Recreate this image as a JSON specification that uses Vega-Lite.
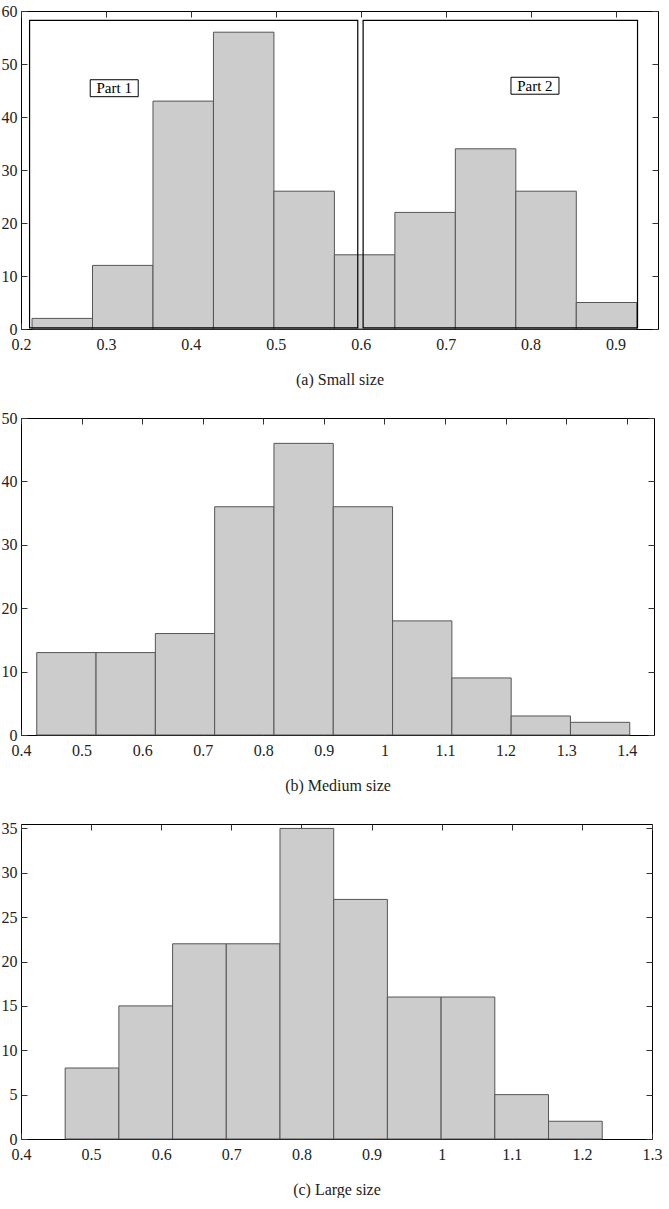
{
  "$schema": "https://vega.github.io/schema/vega-lite/v6.json",
  "padding": {"left": 0, "top": 2, "right": 0, "bottom": 0},
  "background": "white",
  "bounds": "flush",
  "spacing": 89,
  "config": {
    "view": {"stroke": "#000", "strokeWidth": 1},
    "font": "Times New Roman, Liberation Serif, DejaVu Serif, serif",
    "text": {"font": "Times New Roman, Liberation Serif, DejaVu Serif, serif"},
    "axis": {
      "grid": false,
      "domain": false,
      "labelFont": "Times New Roman, Liberation Serif, DejaVu Serif, serif",
      "labelFontSize": 16,
      "labelColor": "#222",
      "tickColor": "#333",
      "tickSize": -6,
      "titleFont": "Times New Roman, Liberation Serif, DejaVu Serif, serif",
      "titleFontSize": 16,
      "titleFontWeight": "normal",
      "titleColor": "#222"
    },
    "axisX": {"labelPadding": 13},
    "axisY": {"labelPadding": 10}
  },
  "vconcat": [
    {
      "width": 637,
      "height": 318,
      "layer": [
        {
          "data": {"values": [
            {"x0": 0.213, "x1": 0.2842, "count": 2},
            {"x0": 0.2842, "x1": 0.3554, "count": 12},
            {"x0": 0.3554, "x1": 0.4266, "count": 43},
            {"x0": 0.4266, "x1": 0.4978, "count": 56},
            {"x0": 0.4978, "x1": 0.569, "count": 26},
            {"x0": 0.569, "x1": 0.6402, "count": 14},
            {"x0": 0.6402, "x1": 0.7114, "count": 22},
            {"x0": 0.7114, "x1": 0.7826, "count": 34},
            {"x0": 0.7826, "x1": 0.8538, "count": 26},
            {"x0": 0.8538, "x1": 0.925, "count": 5}
          ]},
          "mark": {"type": "rect", "fill": "#cccccc", "stroke": "#555", "strokeWidth": 1},
          "encoding": {
            "x": {"field": "x0", "type": "quantitative", "scale": {"domain": [0.2, 0.95], "nice": false, "zero": false},
                  "axis": {"values": [0.2, 0.3, 0.4, 0.5, 0.6, 0.7, 0.8, 0.9], "format": ".1~f", "title": "(a) Small size", "titlePadding": 19, "labelFlush": false}},
            "x2": {"field": "x1"},
            "y": {"field": "count", "type": "quantitative", "scale": {"domain": [0, 60], "nice": false},
                  "axis": {"values": [0, 10, 20, 30, 40, 50, 60], "title": null}},
            "y2": {"datum": 0}
          }
        },
        {
          "data": {"values": [{"a": 0.2, "b": 0}, {"a": 0.95, "b": 60}]},
          "mark": {"type": "point", "opacity": 0},
          "encoding": {
            "x": {"field": "a", "type": "quantitative", "axis": {"orient": "top", "labels": false, "title": null, "values": [0.2, 0.3, 0.4, 0.5, 0.6, 0.7, 0.8, 0.9]}},
            "y": {"field": "b", "type": "quantitative", "axis": {"orient": "right", "labels": false, "title": null, "values": [0, 10, 20, 30, 40, 50, 60]}}
          }
        },
        {
          "data": {"values": [
            {"a": 0.2101, "b": 0.5965, "c": 0.2, "d": 58.25},
            {"a": 0.6028, "b": 0.9259, "c": 0.2, "d": 58.25}
          ]},
          "mark": {"type": "rect", "fillOpacity": 0, "stroke": "#000", "strokeWidth": 1.2},
          "encoding": {
            "x": {"field": "a", "type": "quantitative", "axis": null},
            "x2": {"field": "b"},
            "y": {"field": "c", "type": "quantitative", "axis": null},
            "y2": {"field": "d"}
          }
        },
        {
          "data": {"values": [
            {"a": 0.2815, "b": 0.338, "c": 43.83, "d": 47.03, "tx": 0.3097, "ty": 45.43, "label": "Part 1"},
            {"a": 0.7769, "b": 0.8334, "c": 44.3, "d": 47.5, "tx": 0.805, "ty": 45.9, "label": "Part 2"}
          ]},
          "layer": [
            {
              "mark": {"type": "rect", "fill": "white", "stroke": "#000", "strokeWidth": 1},
              "encoding": {
                "x": {"field": "a", "type": "quantitative", "axis": null},
                "x2": {"field": "b"},
                "y": {"field": "c", "type": "quantitative", "axis": null},
                "y2": {"field": "d"}
              }
            },
            {
              "mark": {"type": "text", "font": "Times New Roman, Liberation Serif, DejaVu Serif, serif", "fontSize": 15, "color": "#000", "baseline": "middle", "align": "center"},
              "encoding": {
                "x": {"field": "tx", "type": "quantitative", "axis": null},
                "y": {"field": "ty", "type": "quantitative", "axis": null},
                "text": {"field": "label"}
              }
            }
          ]
        }
      ],
      "resolve": {"axis": {"x": "independent", "y": "independent"}}
    },
    {
      "width": 633,
      "height": 317,
      "layer": [
        {
          "data": {"values": [
            {"x0": 0.426, "x1": 0.5239, "count": 13},
            {"x0": 0.5239, "x1": 0.6218, "count": 13},
            {"x0": 0.6218, "x1": 0.7197, "count": 16},
            {"x0": 0.7197, "x1": 0.8176, "count": 36},
            {"x0": 0.8176, "x1": 0.9155, "count": 46},
            {"x0": 0.9155, "x1": 1.0134, "count": 36},
            {"x0": 1.0134, "x1": 1.1113, "count": 18},
            {"x0": 1.1113, "x1": 1.2092, "count": 9},
            {"x0": 1.2092, "x1": 1.3071, "count": 3},
            {"x0": 1.3071, "x1": 1.405, "count": 2}
          ]},
          "mark": {"type": "rect", "fill": "#cccccc", "stroke": "#555", "strokeWidth": 1},
          "encoding": {
            "x": {"field": "x0", "type": "quantitative", "scale": {"domain": [0.4, 1.445], "nice": false, "zero": false},
                  "axis": {"values": [0.4, 0.5, 0.6, 0.7, 0.8, 0.9, 1.0, 1.1, 1.2, 1.3, 1.4], "format": ".1~f", "title": "(b) Medium size", "titlePadding": 19, "labelFlush": false}},
            "x2": {"field": "x1"},
            "y": {"field": "count", "type": "quantitative", "scale": {"domain": [0, 50], "nice": false},
                  "axis": {"values": [0, 10, 20, 30, 40, 50], "title": null}},
            "y2": {"datum": 0}
          }
        },
        {
          "data": {"values": [{"a": 0.4, "b": 0}, {"a": 1.445, "b": 50}]},
          "mark": {"type": "point", "opacity": 0},
          "encoding": {
            "x": {"field": "a", "type": "quantitative", "axis": {"orient": "top", "labels": false, "title": null, "values": [0.4, 0.5, 0.6, 0.7, 0.8, 0.9, 1.0, 1.1, 1.2, 1.3, 1.4]}},
            "y": {"field": "b", "type": "quantitative", "axis": {"orient": "right", "labels": false, "title": null, "values": [0, 10, 20, 30, 40, 50]}}
          }
        }
      ],
      "resolve": {"axis": {"x": "independent", "y": "independent"}}
    },
    {
      "width": 631,
      "height": 315,
      "layer": [
        {
          "data": {"values": [
            {"x0": 0.463, "x1": 0.5396, "count": 8},
            {"x0": 0.5396, "x1": 0.6162, "count": 15},
            {"x0": 0.6162, "x1": 0.6928, "count": 22},
            {"x0": 0.6928, "x1": 0.7694, "count": 22},
            {"x0": 0.7694, "x1": 0.846, "count": 35},
            {"x0": 0.846, "x1": 0.9226, "count": 27},
            {"x0": 0.9226, "x1": 0.9992, "count": 16},
            {"x0": 0.9992, "x1": 1.0758, "count": 16},
            {"x0": 1.0758, "x1": 1.1524, "count": 5},
            {"x0": 1.1524, "x1": 1.229, "count": 2}
          ]},
          "mark": {"type": "rect", "fill": "#cccccc", "stroke": "#555", "strokeWidth": 1},
          "encoding": {
            "x": {"field": "x0", "type": "quantitative", "scale": {"domain": [0.4, 1.3], "nice": false, "zero": false},
                  "axis": {"values": [0.4, 0.5, 0.6, 0.7, 0.8, 0.9, 1.0, 1.1, 1.2, 1.3], "format": ".1~f", "title": "(c) Large size", "titlePadding": 19, "labelFlush": false}},
            "x2": {"field": "x1"},
            "y": {"field": "count", "type": "quantitative", "scale": {"domain": [0, 35.5], "nice": false},
                  "axis": {"values": [0, 5, 10, 15, 20, 25, 30, 35], "title": null}},
            "y2": {"datum": 0}
          }
        },
        {
          "data": {"values": [{"a": 0.4, "b": 0}, {"a": 1.3, "b": 35.5}]},
          "mark": {"type": "point", "opacity": 0},
          "encoding": {
            "x": {"field": "a", "type": "quantitative", "axis": {"orient": "top", "labels": false, "title": null, "values": [0.4, 0.5, 0.6, 0.7, 0.8, 0.9, 1.0, 1.1, 1.2, 1.3]}},
            "y": {"field": "b", "type": "quantitative", "axis": {"orient": "right", "labels": false, "title": null, "values": [0, 5, 10, 15, 20, 25, 30, 35]}}
          }
        }
      ],
      "resolve": {"axis": {"x": "independent", "y": "independent"}}
    }
  ]
}
